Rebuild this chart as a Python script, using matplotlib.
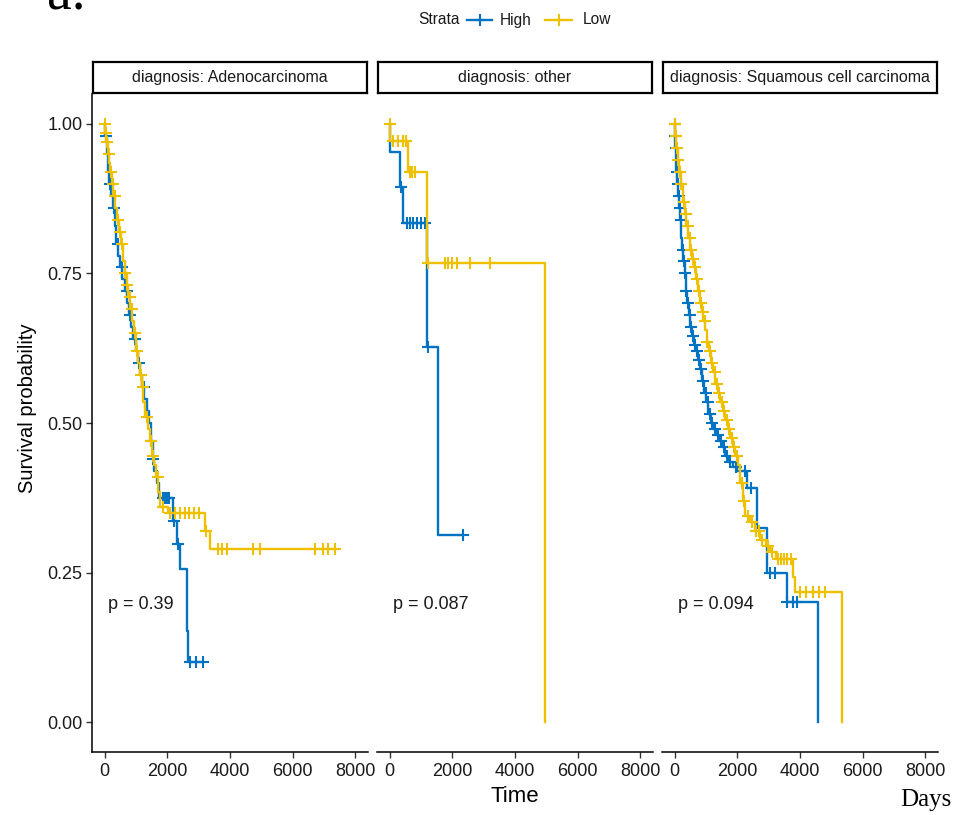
import numpy as np
import matplotlib
matplotlib.use("Agg")
import matplotlib.pyplot as plt
from matplotlib.lines import Line2D
from matplotlib.patches import Rectangle

plt.rcParams['font.family'] = ['Liberation Sans', 'DejaVu Sans']

# ---------------- data ----------------
panels = ["diagnosis: Adenocarcinoma", "diagnosis: other", "diagnosis: Squamous cell carcinoma"]
pvalues = ["p = 0.39", "p = 0.087", "p = 0.094"]
strata = ["High", "Low"]
x_ticks = [0, 2000, 4000, 6000, 8000]
y_ticks = [0.00, 0.25, 0.50, 0.75, 1.00]

# Adenocarcinoma
adeno_high_t = [0, 30, 70, 110, 150, 200, 260, 320, 380, 440, 500, 570, 640, 710, 780, 850, 920, 990,
                1060, 1130, 1200, 1270, 1340, 1410, 1470, 1530, 1590, 1660, 1730, 2194, 2321, 2408, 2621, 2672]
adeno_high_s = [1.0, .98, .95, .92, .90, .88, .86, .83, .80, .78, .76, .74, .72, .70, .68, .66, .64, .62,
                .60, .58, .56, .54, .52, .50, .47, .44, .42, .40, .375, .337, .298, .256, .152, .101]
adeno_high_end = 3150
adeno_high_cens = [60, 180, 300, 420, 560, 700, 820, 960, 1090, 1250, 1480, 1560, 1870, 1930, 1990,
                   2060, 2200, 2330, 2740, 2900, 3150]

adeno_low_t = [0, 30, 60, 100, 140, 180, 230, 280, 340, 400, 460, 520, 580, 640, 700, 760, 820, 880,
               940, 1000, 1060, 1120, 1180, 1240, 1300, 1370, 1440, 1510, 1580, 1650, 1720, 1780, 2030,
               3205, 3364]
adeno_low_s = [1.0, .985, .97, .95, .935, .92, .90, .88, .86, .84, .82, .80, .77, .75, .73, .71, .69, .67,
               .65, .62, .60, .58, .56, .535, .51, .49, .47, .445, .43, .41, .385, .36, .35,
               .32, .289]
adeno_low_end = 7350
adeno_low_cens = [10, 50, 90, 130, 200, 260, 330, 420, 500, 560, 650, 730, 800, 870, 960, 1050, 1150,
                  1220, 1350, 1480, 1560, 1690, 1850, 2100, 2250, 2400, 2550, 2700, 2850, 3000, 3250,
                  3619, 3747, 3906, 4735, 4958, 6713, 6968, 7127, 7350]

# other
other_high_t = [0, 10, 333, 440, 1185, 1535]
other_high_s = [1.0, .953, .894, .835, .627, .312]
other_high_end = 2352
other_high_cens = [366, 547, 650, 760, 860, 1000, 1130, 1230, 2352]

other_low_t = [0, 15, 598, 1185, 4957]
other_low_s = [1.0, .972, .92, .767, 0.0]
other_low_end = 4957
other_low_cens = [0, 120, 279, 430, 530, 650, 730, 810, 1230, 1768, 1864, 1991, 2150, 2565, 3203]

# Squamous cell carcinoma
squam_high_t = [0, 10, 30, 60, 90, 120, 150, 180, 210, 240, 280, 320, 360, 400, 450, 500, 560, 620,
                680, 740, 800, 870, 940, 1010, 1080, 1150, 1230, 1320, 1420, 1520, 1620, 1720, 1850,
                2000, 2301, 2619, 2938, 3576, 4585]
squam_high_s = [1.0, .98, .96, .92, .90, .88, .86, .84, .81, .79, .77, .75, .72, .70, .68, .66, .645, .63,
                .62, .605, .59, .57, .55, .535, .515, .50, .49, .48, .47, .46, .445, .435, .427,
                .42, .392, .325, .25, .20, 0.0]
squam_high_end = 4585
squam_high_cens = [5, 25, 50, 80, 110, 140, 170, 200, 260, 300, 340, 380, 420, 480, 540, 600, 660, 720,
                   780, 850, 920, 990, 1060, 1120, 1200, 1280, 1380, 1480, 1580, 1680, 1780, 1950,
                   2250, 2450, 3048, 3207, 3600, 3790, 3920]

squam_low_t = [0, 20, 60, 100, 150, 200, 260, 320, 380, 440, 500, 560, 620, 680, 740, 800, 860, 920,
               980, 1040, 1100, 1160, 1230, 1300, 1380, 1460, 1540, 1620, 1700, 1780, 1860, 1940,
               2020, 2100, 2180, 2260, 2400, 2560, 2720, 2900, 3050, 3250, 3790, 3840, 5335]
squam_low_s = [1.0, .98, .96, .94, .92, .90, .87, .85, .83, .81, .79, .775, .76, .74, .72, .70, .685, .67,
               .655, .635, .62, .60, .585, .565, .55, .535, .52, .505, .49, .475, .46, .445,
               .43, .40, .37, .345, .335, .32, .305, .295, .285, .272, .242, .217, 0.0]
squam_low_end = 5335
squam_low_cens = [0, 15, 40, 70, 110, 160, 220, 290, 350, 420, 480, 540, 600, 660, 720, 790, 850, 910,
                  970, 1050, 1130, 1200, 1280, 1350, 1420, 1500, 1590, 1660, 1750, 1830, 1910, 2000,
                  2150, 2230, 2330, 2480, 2600, 2680, 2800, 2980, 3100, 3300, 3400, 3500, 3600, 3700,
                  4005, 4200, 4420, 4600, 4800]

curves = [
    [(adeno_high_t, adeno_high_s, adeno_high_end, adeno_high_cens),
     (adeno_low_t, adeno_low_s, adeno_low_end, adeno_low_cens)],
    [(other_high_t, other_high_s, other_high_end, other_high_cens),
     (other_low_t, other_low_s, other_low_end, other_low_cens)],
    [(squam_high_t, squam_high_s, squam_high_end, squam_high_cens),
     (squam_low_t, squam_low_s, squam_low_end, squam_low_cens)],
]
colors = ["#0073C2", "#EFC000"]

# ---------------- layout ----------------
W, H = 956, 815
fig = plt.figure(figsize=(W / 100, H / 100), dpi=100)

def fx(px):
    return px / W

def fy(py):
    return 1 - py / H

panel_lefts = [92, 377, 662]
panel_w = 276
top_px, bot_px = 94, 752

for i, left in enumerate(panel_lefts):
    ax = fig.add_axes([fx(left), fy(bot_px), panel_w / W, (bot_px - top_px) / H])
    ax.set_xlim(-400, 8400)
    ax.set_ylim(-0.05, 1.05)
    for j, (t, s, end, cens) in enumerate(curves[i]):
        tt = np.append(np.array(t, float), end)
        ss = np.append(np.array(s, float), s[-1])
        ax.step(tt, ss, where='post', color=colors[j], lw=1.7, zorder=2 + j)
        c = np.array(cens, float)
        idx = np.searchsorted(np.array(t, float), c, side='right') - 1
        cy = np.array(s, float)[idx]
        ax.plot(c, cy, linestyle='none', marker='+', color=colors[j], ms=8, mew=1.5, zorder=2 + j)
    ax.text(100, 0.196, pvalues[i], fontsize=13, ha='left', va='center', color='#1a1a1a')
    ax.set_xticks(x_ticks)
    ax.set_xticklabels([str(v) for v in x_ticks])
    ax.tick_params(axis='x', labelsize=13, length=4, width=1, color='#333333', pad=4, labelcolor='#1a1a1a')
    for sp in ['top', 'right']:
        ax.spines[sp].set_visible(False)
    ax.spines['bottom'].set_linewidth(1.1)
    ax.spines['bottom'].set_color('black')
    if i == 0:
        ax.set_yticks(y_ticks)
        ax.set_yticklabels(["%.2f" % v for v in y_ticks])
        ax.tick_params(axis='y', labelsize=13, length=4, width=1, color='#333333', pad=3, labelcolor='#1a1a1a')
        ax.spines['left'].set_linewidth(1.1)
        ax.spines['left'].set_color('black')
    else:
        ax.spines['left'].set_visible(False)
        ax.set_yticks([])
    ax.patch.set_alpha(0)

    # strip
    sax = fig.add_axes([fx(left + 1), fy(93), (panel_w - 2) / W, 31 / H])
    sax.set_xticks([])
    sax.set_yticks([])
    for sp in sax.spines.values():
        sp.set_linewidth(1.6)
        sp.set_color('black')
    sax.text(0.5, 0.5, panels[i], fontsize=11.5, ha='center', va='center',
             transform=sax.transAxes, color='#1a1a1a')

# axis titles
fig.text(fx(515), fy(797), "Time", fontsize=16, ha='center', va='center', color='black')
fig.text(fx(28), fy(408), "Survival probability", fontsize=14.5, rotation=90,
         ha='center', va='center', color='black')

# legend
ly = fy(20)
fig.text(fx(418), ly, "Strata", fontsize=11.2, ha='left', va='center', color='#1a1a1a')
for (x0, x1, tx, lab, col) in [(467, 492, 500, "High", colors[0]), (545, 572, 583, "Low", colors[1])]:
    fig.add_artist(Line2D([fx(x0), fx(x1)], [ly, ly], color=col, lw=1.7, transform=fig.transFigure))
    fig.add_artist(Line2D([fx((x0 + x1) / 2)], [ly], color=col, marker='+', ms=8, mew=1.5,
                          linestyle='none', transform=fig.transFigure))
    fig.text(fx(tx), ly, lab, fontsize=11.2, ha='left', va='center', color='#1a1a1a')

# extra annotations
fig.text(fx(47), fy(10), "a.", fontsize=40, family='Liberation Serif', ha='left',
         va='baseline', color='black')
fig.text(fx(900), fy(800), "Days", fontsize=18, family='Liberation Serif', ha='left',
         va='center', color='black')

fig.savefig("out.png", dpi=100)
